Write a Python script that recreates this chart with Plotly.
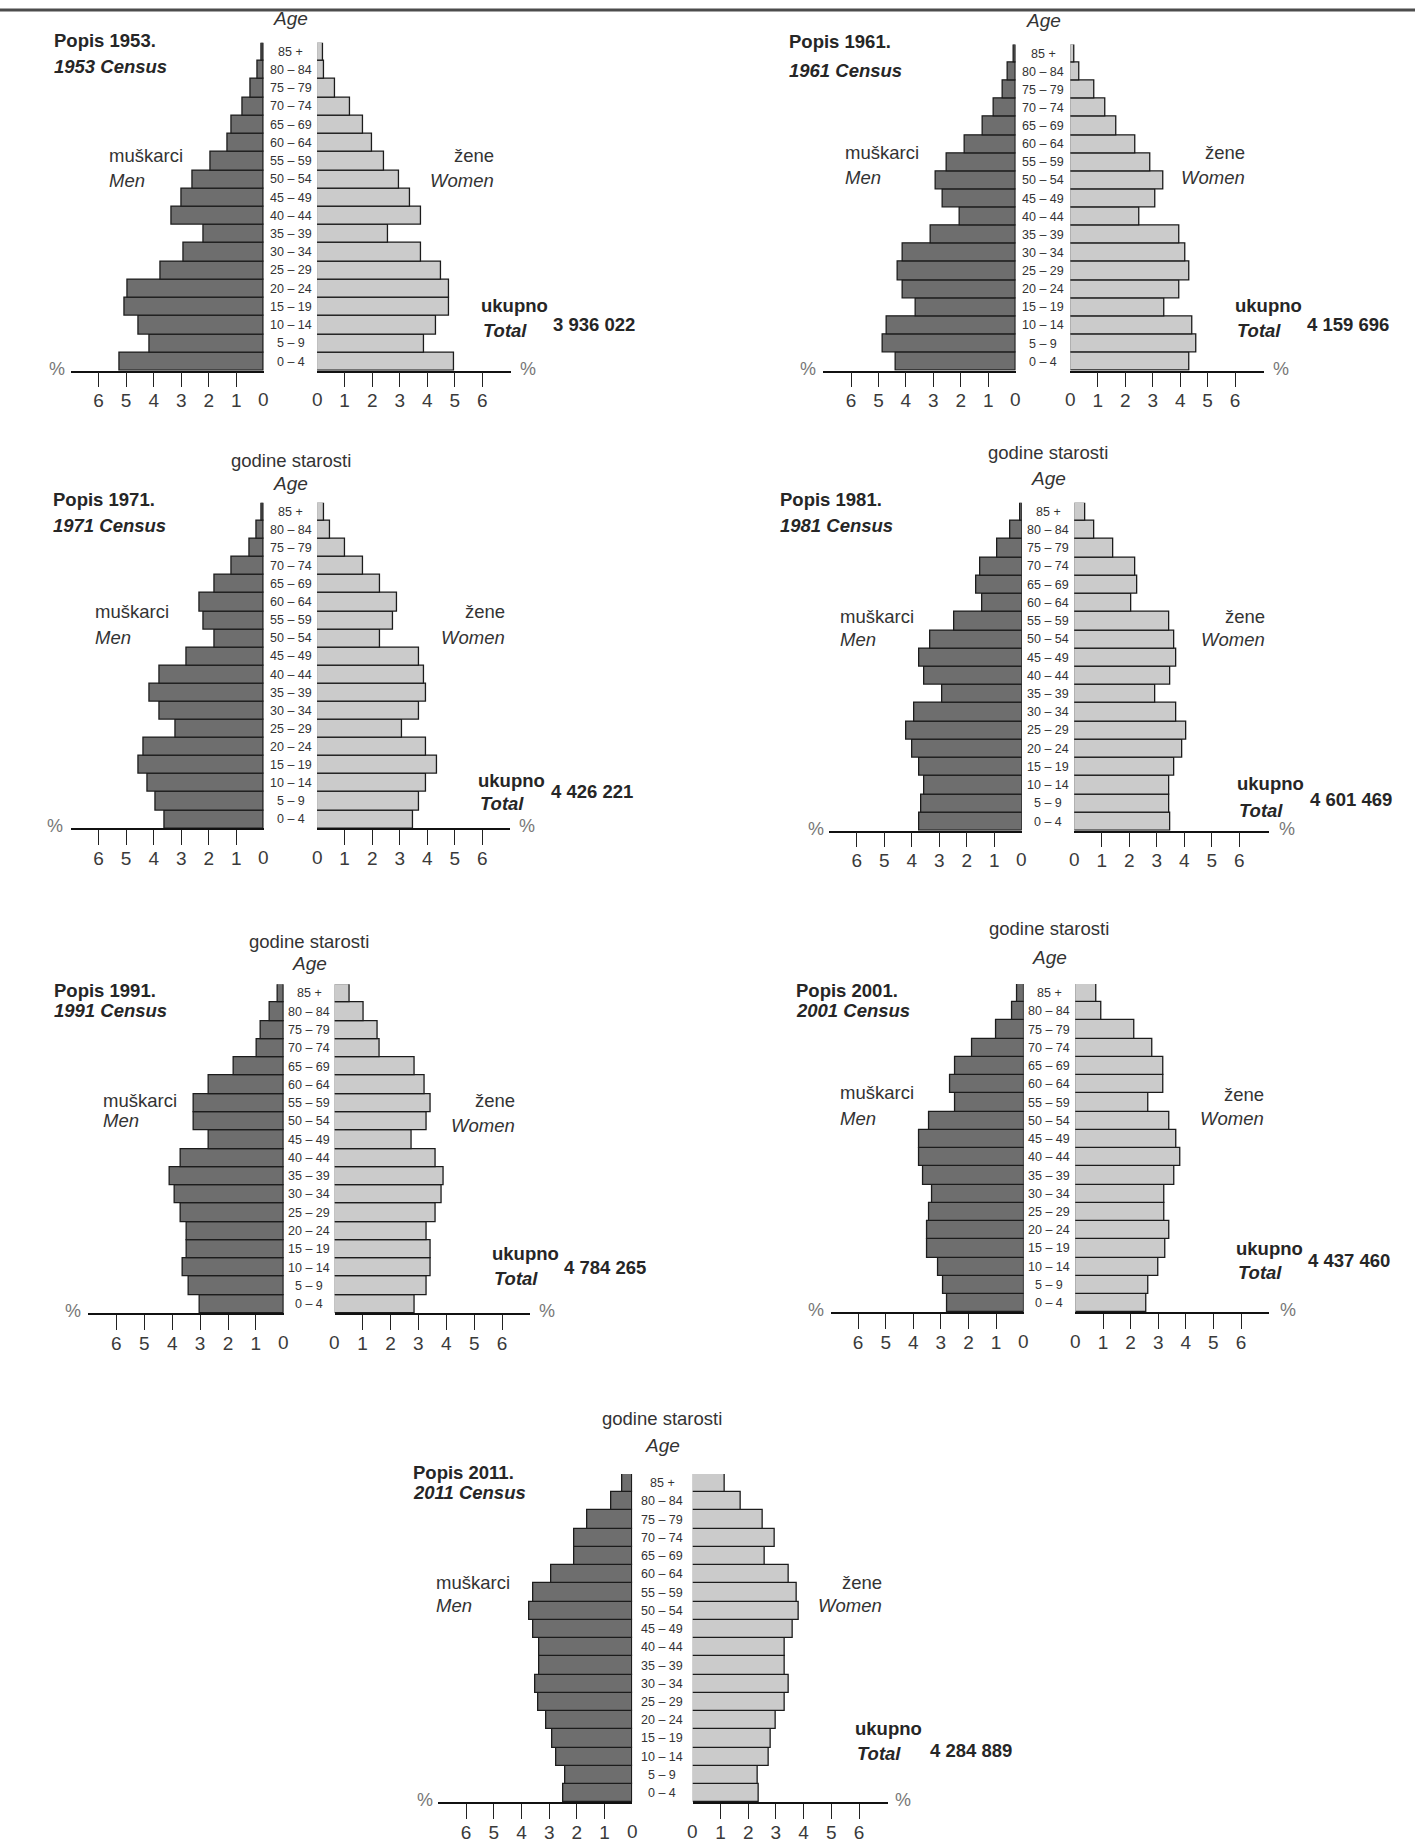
import plotly.graph_objects as go

W, H = 1415, 1843

# ---------------- data ----------------
ages = ["0 – 4", "5 – 9", "10 – 14", "15 – 19", "20 – 24", "25 – 29", "30 – 34",
        "35 – 39", "40 – 44", "45 – 49", "50 – 54", "55 – 59", "60 – 64",
        "65 – 69", "70 – 74", "75 – 79", "80 – 84", "85 +"]

years = [1953, 1961, 1971, 1981, 1991, 2001, 2011]

men_1953 = [5.24, 4.14, 4.56, 5.04, 4.96, 3.74, 2.93, 2.19, 3.36, 2.99, 2.6, 1.92, 1.32, 1.18, 0.78, 0.5, 0.24, 0.1]
women_1953 = [4.99, 3.89, 4.31, 4.78, 4.78, 4.51, 3.76, 2.56, 3.76, 3.36, 2.96, 2.42, 2.01, 1.68, 1.21, 0.67, 0.26, 0.22]

men_1961 = [4.38, 4.85, 4.71, 3.64, 4.11, 4.31, 4.11, 3.1, 2.02, 2.64, 2.91, 2.5, 1.87, 1.2, 0.8, 0.46, 0.27, 0.07]
women_1961 = [4.32, 4.59, 4.46, 3.43, 3.97, 4.32, 4.18, 3.97, 2.5, 3.1, 3.38, 2.9, 2.36, 1.69, 1.28, 0.88, 0.32, 0.14]

men_1971 = [3.61, 3.94, 4.21, 4.56, 4.35, 3.19, 3.79, 4.15, 3.79, 2.79, 1.79, 2.19, 2.32, 1.79, 1.18, 0.51, 0.28, 0.1]
women_1971 = [3.49, 3.69, 3.96, 4.36, 3.96, 3.08, 3.69, 3.96, 3.89, 3.69, 2.28, 2.75, 2.89, 2.28, 1.68, 1.0, 0.46, 0.26]

men_1981 = [3.74, 3.65, 3.53, 3.74, 4.0, 4.21, 3.92, 2.9, 3.53, 3.74, 3.32, 2.44, 1.42, 1.65, 1.51, 0.88, 0.42, 0.04]
women_1981 = [3.5, 3.44, 3.44, 3.64, 3.92, 4.06, 3.7, 2.96, 3.5, 3.72, 3.63, 3.44, 2.09, 2.3, 2.22, 1.41, 0.74, 0.39]

men_1991 = [3.01, 3.42, 3.63, 3.49, 3.49, 3.7, 3.9, 4.09, 3.7, 2.68, 3.21, 3.21, 2.68, 1.81, 0.96, 0.81, 0.49, 0.21]
women_1991 = [2.88, 3.28, 3.43, 3.43, 3.28, 3.63, 3.82, 3.89, 3.63, 2.75, 3.28, 3.43, 3.23, 2.88, 1.62, 1.54, 1.03, 0.55]

men_2001 = [2.79, 2.92, 3.1, 3.51, 3.51, 3.44, 3.31, 3.65, 3.79, 3.79, 3.42, 2.5, 2.68, 2.5, 1.88, 1.01, 0.42, 0.25]
women_2001 = [2.59, 2.66, 2.99, 3.26, 3.41, 3.21, 3.21, 3.6, 3.81, 3.66, 3.41, 2.66, 3.18, 3.18, 2.78, 2.12, 0.93, 0.75]

men_2011 = [2.49, 2.43, 2.76, 2.9, 3.11, 3.39, 3.5, 3.36, 3.36, 3.57, 3.71, 3.57, 2.94, 2.08, 2.08, 1.63, 0.75, 0.35]
women_2011 = [2.4, 2.33, 2.74, 2.81, 3.01, 3.33, 3.47, 3.33, 3.33, 3.6, 3.81, 3.74, 3.47, 2.6, 2.95, 2.53, 1.75, 1.14]

men_all = [men_1953, men_1961, men_1971, men_1981, men_1991, men_2001, men_2011]
women_all = [women_1953, women_1961, women_1971, women_1981, women_1991, women_2001, women_2011]

totals = ["3 936 022", "4 159 696", "4 426 221", "4 601 469", "4 784 265", "4 437 460", "4 284 889"]

tick_vals = [1, 2, 3, 4, 5, 6]
tick_text = ["1", "2", "3", "4", "5", "6"]

# ---------------- layout positions (pixels) ----------------
panels = [
    dict(x0=70.6, xL=263.9, xR=317.1, x1=510.7, s=27.55, yT=42.7, yB=370.7,
         px=51.5, py=40, cy=67, gy=None, ay=19, cx=290.5,
         mx=107, my=155, meny=180, zx=496, zy=155, wy=180,
         ux=479, uy=305, ty=330, nx=551, ny=324, pl=57, pr=528),
    dict(x0=822.8, xL=1015.7, xR=1070.4, x1=1263.7, s=27.45, yT=44.5, yB=370.7,
         px=787, py=42, cy=70, gy=None, ay=21, cx=1043,
         mx=843, my=153, meny=177, zx=1247, zy=153, wy=177,
         ux=1233, uy=305, ty=330, nx=1305, ny=325, pl=808, pr=1281),
    dict(x0=70.6, xL=263.9, xR=317.1, x1=510, s=27.55, yT=502.7, yB=828.3,
         px=50.7, py=500, cy=526, gy=460.7, ay=483, cx=290.5,
         mx=93, my=612, meny=637, zx=507, zy=612, wy=637,
         ux=476, uy=780, ty=803, nx=549, ny=791, pl=55, pr=527),
    dict(x0=829.3, xL=1021.8, xR=1074.3, x1=1269.4, s=27.5, yT=502.7, yB=830.7,
         px=778, py=500, cy=526, gy=453, ay=478, cx=1048,
         mx=838, my=616, meny=640, zx=1267, zy=616, wy=640,
         ux=1235, uy=783, ty=810, nx=1308, ny=800, pl=816, pr=1287),
    dict(x0=87.8, xL=283.8, xR=334.7, x1=529.9, s=27.9, yT=984.3, yB=1313.3,
         px=51.5, py=990, cy=1010, gy=941, ay=963, cx=309,
         mx=101, my=1100, meny=1120, zx=517, zy=1100, wy=1125,
         ux=490, uy=1253, ty=1278, nx=562, ny=1267, pl=72.5, pr=547),
    dict(x0=831.2, xL=1023.7, xR=1075.4, x1=1269.4, s=27.6, yT=984, yB=1312.3,
         px=794, py=991, cy=1010, gy=928, ay=957, cx=1049,
         mx=838, my=1092, meny=1118, zx=1266, zy=1094, wy=1118,
         ux=1234, uy=1248, ty=1272, nx=1306, ny=1260, pl=816, pr=1288),
    dict(x0=438.3, xL=632.3, xR=692.8, x1=887.9, s=27.7, yT=1474, yB=1802.3,
         px=411, py=1472, cy=1492, gy=1418, ay=1445, cx=662,
         mx=434, my=1582, meny=1605, zx=884, zy=1582, wy=1605,
         ux=853, uy=1728, ty=1753, nx=928, ny=1750, pl=425, pr=903),
]

SANS = "Liberation Sans, Arial, Helvetica, sans-serif"
NARROW = "Liberation Sans Narrow, Arial Narrow, Liberation Sans, sans-serif"
TXT = "#262626"
MEN_COLOR = "#6e6e6e"
WOMEN_COLOR = "#cbcbcb"
EDGE = "#1c1c1c"


def fx(px):
    return px / W


def fy(py):
    return 1 - py / H


fig = go.Figure()
layout = dict(width=W, height=H, margin=dict(l=0, r=0, t=0, b=0),
              paper_bgcolor="white", plot_bgcolor="rgba(0,0,0,0)",
              showlegend=False, bargap=0)
annotations = []
shapes = []


def ann(text, x, y, xanchor="left", size=18.5, family=SANS, color=TXT, xref="paper", yref="paper"):
    annotations.append(dict(text=text, x=x, y=y, xref=xref, yref=yref,
                            xanchor=xanchor, yanchor="middle", showarrow=False,
                            font=dict(family=family, size=size, color=color)))


for i, (yr, men, women, total, p) in enumerate(zip(years, men_all, women_all, totals, panels)):
    k = i + 1
    ykey = "yaxis" if k == 1 else f"yaxis{k}"
    yref = "y" if k == 1 else f"y{k}"
    xl, xr = 2 * i + 1, 2 * i + 2
    xlkey = "xaxis" if xl == 1 else f"xaxis{xl}"
    xrkey = f"xaxis{xr}"
    xlref = "x" if xl == 1 else f"x{xl}"
    xrref = f"x{xr}"

    layout[ykey] = dict(domain=[fy(p["yB"]), fy(p["yT"])], visible=False,
                        type="category", categoryorder="array", categoryarray=ages,
                        range=[-0.5, 17.5], fixedrange=True)
    common = dict(anchor=yref, showgrid=False, zeroline=False, showline=True,
                  linecolor="#111", linewidth=1.5, ticks="outside", ticklen=15,
                  tickwidth=1.4, tickcolor="#222", tickmode="array",
                  tickvals=tick_vals, ticktext=tick_text, ticklabelstandoff=-3,
                  tickfont=dict(family=NARROW, size=19, color="#3a3a3a"),
                  fixedrange=True)
    layout[xlkey] = dict(domain=[fx(p["x0"]), fx(p["xL"])],
                         range=[(p["xL"] - p["x0"]) / p["s"], 0], **common)
    layout[xrkey] = dict(domain=[fx(p["xR"]), fx(p["x1"])],
                         range=[0, (p["x1"] - p["xR"]) / p["s"]], **common)

    fig.add_trace(go.Bar(x=men, y=ages, orientation="h", xaxis=xlref, yaxis=yref,
                         marker=dict(color=MEN_COLOR, line=dict(color=EDGE, width=1.3)),
                         hoverinfo="x+y"))
    fig.add_trace(go.Bar(x=women, y=ages, orientation="h", xaxis=xrref, yaxis=yref,
                         marker=dict(color=WOMEN_COLOR, line=dict(color=EDGE, width=1.3)),
                         hoverinfo="x+y"))

    # zero labels (no tick mark at zero in the original)
    lab_y = fy(p["yB"] + 29)
    for xref_ in (xlref, xrref):
        annotations.append(dict(text="0", x=0, y=lab_y, xref=xref_, yref="paper",
                                xanchor="center", yanchor="middle", showarrow=False,
                                font=dict(family=NARROW, size=19, color="#3a3a3a")))

    # age group labels
    for a in ages:
        ann(a, fx(p["cx"]), a, xanchor="center", size=12.5, family=NARROW,
            color="#333", yref=yref)

    # texts
    ann(f"<b>Popis {yr}.</b>", fx(p["px"]), fy(p["py"]))
    ann(f"<b><i>{yr} Census</i></b>", fx(p["px"]), fy(p["cy"]))
    if p["gy"] is not None:
        ann("godine starosti", fx(p["cx"]), fy(p["gy"]), xanchor="center", color="#333")
    ann("<i>Age</i>", fx(p["cx"]), fy(p["ay"]), xanchor="center", size=19, color="#333")
    ann("muškarci", fx(p["mx"]), fy(p["my"]), color="#333")
    ann("<i>Men</i>", fx(p["mx"]), fy(p["meny"]), color="#333")
    ann("žene", fx(p["zx"]), fy(p["zy"]), xanchor="right", color="#333")
    ann("<i>Women</i>", fx(p["zx"]), fy(p["wy"]), xanchor="right", color="#333")
    ann("<b>ukupno</b>", fx(p["ux"]), fy(p["uy"]))
    ann("<b><i>Total</i></b>", fx(p["ux"] + 2), fy(p["ty"]))
    ann(f"<b>{total}</b>", fx(p["nx"]), fy(p["ny"]))
    ann("%", fx(p["pl"]), fy(p["yB"] - 2), xanchor="center", size=18, family=NARROW, color="#777")
    ann("%", fx(p["pr"]), fy(p["yB"] - 2), xanchor="center", size=18, family=NARROW, color="#777")

# top rule
shapes.append(dict(type="line", xref="paper", yref="paper", x0=0, x1=1,
                   y0=fy(10), y1=fy(10), line=dict(color="#4d4d4d", width=3), layer="above"))

layout["annotations"] = annotations
layout["shapes"] = shapes
fig.update_layout(**layout)
fig.write_html("out.html",
               config={"displayModeBar": False, "responsive": False},
               post_script="document.body.style.margin='0px';document.body.style.padding='0px';"
                           "document.documentElement.style.overflow='hidden';")
